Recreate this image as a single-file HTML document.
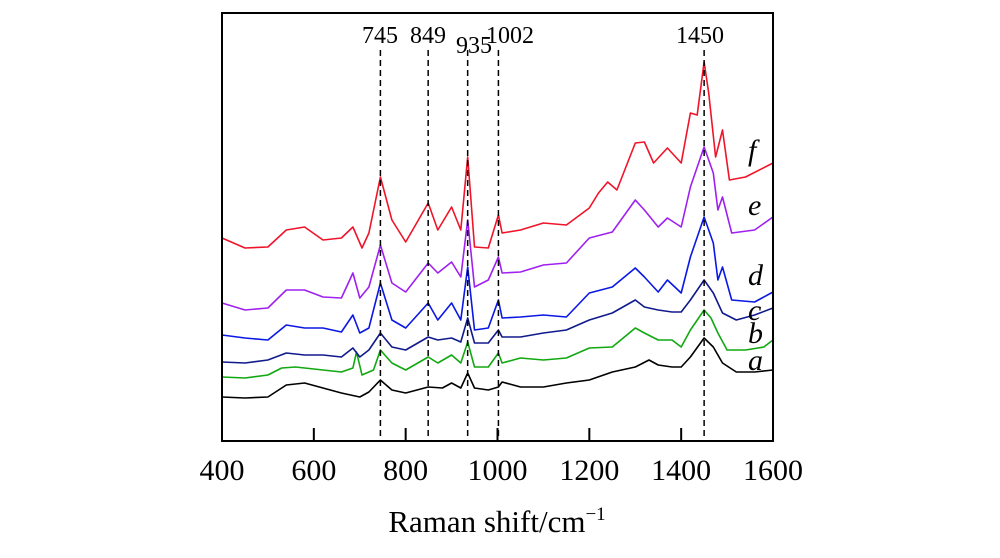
<!DOCTYPE html>
<html><head><meta charset="utf-8"><style>
body{margin:0;background:#fff}
svg text{font-family:"Liberation Serif",serif;fill:#000}
</style></head><body>
<svg width="1000" height="553" viewBox="0 0 1000 553">
<g id="plot"></g>
<rect x="222" y="13" width="551" height="428" fill="none" stroke="#000" stroke-width="2"/>
<g id="ticks"></g>
<text x="497" y="532" font-size="31" text-anchor="middle">Raman shift/cm<tspan font-size="19" dy="-12">−1</tspan></text>
</svg>
<script>
const xTicks=[400,600,800,1000,1200,1400,1600];
const peakPos=[745,849,935,1002,1450];
const peakLabels=["745","849","935","1002","1450"];
const seriesNames=["a","b","c","d","e","f"];
const seriesColors=["#000000","#11a811","#101a8c","#0a18e6","#a020f0","#f0142a"];
const xA=[400,450,500,540,580,620,660,700,720,745,770,800,849,880,900,920,935,950,980,1002,1010,1050,1100,1150,1200,1250,1300,1330,1350,1380,1400,1420,1450,1470,1490,1520,1560,1600];
const yA=[44,43,44,56,58,53,48,44,49,61,51,48,54,53,58,53,68,53,51,54,59,54,54,58,61,69,74,81,76,74,74,84,103,94,78,69,69,71];
const xB=[400,450,500,530,560,620,660,685,693,705,730,745,770,800,849,870,900,920,935,950,980,1002,1010,1050,1100,1150,1200,1250,1300,1320,1350,1380,1400,1420,1450,1465,1480,1500,1540,1580,1600];
const yB=[64,63,66,73,74,71,69,73,89,66,71,91,78,71,84,78,86,78,99,74,74,88,78,83,81,83,93,94,113,108,101,101,94,111,131,123,108,91,91,94,101];
const xC=[400,450,500,540,580,620,660,685,700,720,745,770,800,849,870,900,920,935,950,980,1002,1010,1050,1100,1150,1200,1250,1300,1320,1350,1380,1400,1420,1450,1470,1490,1520,1560,1600];
const yC=[79,78,81,88,86,86,84,93,84,91,108,94,91,104,101,103,99,123,98,98,111,104,104,108,111,121,128,141,134,131,129,129,141,161,148,128,121,126,133];
const xD=[400,450,500,540,580,620,660,685,700,720,745,770,800,849,870,900,920,935,950,980,1002,1010,1050,1100,1150,1200,1250,1300,1320,1350,1370,1400,1420,1450,1470,1480,1490,1510,1560,1600];
const yD=[106,103,101,116,113,113,109,126,108,113,158,121,113,138,121,138,121,174,111,113,141,123,124,126,124,148,154,173,164,149,161,148,184,224,198,161,174,141,139,149];
const yE=[138,131,133,151,151,144,143,168,143,154,196,158,149,178,168,179,164,221,154,161,184,168,169,176,178,203,209,241,231,214,223,214,254,294,268,231,244,208,211,224];
const xF=[400,450,500,540,580,620,660,685,705,720,745,770,800,849,870,900,920,935,950,980,1002,1010,1050,1100,1150,1200,1220,1240,1260,1300,1320,1340,1370,1400,1420,1435,1450,1460,1475,1490,1505,1540,1600];
const yF=[203,193,194,211,214,201,203,214,193,208,264,221,199,238,211,234,211,284,194,193,226,208,211,218,216,233,248,259,251,298,299,278,293,278,328,326,379,348,284,311,261,264,278];
const labelY=[360,333,310,275,205,150];
const NS="http://www.w3.org/2000/svg";
const X=v=>222+(v-400)*551/1200;
const Y=v=>441-v;
const plot=document.getElementById('plot'),ticks=document.getElementById('ticks');
const series=[[xA,yA],[xB,yB],[xC,yC],[xD,yD],[xD,yE],[xF,yF]];
series.forEach((s,i)=>{
 const p=document.createElementNS(NS,'polyline');
 p.setAttribute('points',s[0].map((x,j)=>X(x).toFixed(1)+','+Y(s[1][j]).toFixed(1)).join(' '));
 p.setAttribute('fill','none');p.setAttribute('stroke',seriesColors[i]);p.setAttribute('stroke-width','1.6');p.setAttribute('stroke-linejoin','round');
 
 
 plot.appendChild(p);
 const t=document.createElementNS(NS,'text');
 t.setAttribute('x',748);t.setAttribute('y',labelY[i]+10);t.setAttribute('font-size','30');t.setAttribute('font-style','italic');
 t.textContent=seriesNames[i];
 
 
 plot.appendChild(t);
});
const lblX=[380,428,474,510,700],lblY=[43,43,53,43,43];
peakPos.forEach((v,i)=>{
 const l=document.createElementNS(NS,'line');
 l.setAttribute('x1',X(v));l.setAttribute('x2',X(v));l.setAttribute('y1',50);l.setAttribute('y2',440);
 l.setAttribute('stroke','#000');l.setAttribute('stroke-width','1.5');l.setAttribute('stroke-dasharray','6,4');
 
 
 plot.appendChild(l);
 const t=document.createElementNS(NS,'text');
 t.setAttribute('x',lblX[i]);t.setAttribute('y',lblY[i]);t.setAttribute('font-size','24');t.setAttribute('text-anchor','middle');
 t.textContent=peakLabels[i];
 
 
 plot.appendChild(t);
});
xTicks.forEach(v=>{
 if(v>400&&v<1600){
  const l=document.createElementNS(NS,'line');
  l.setAttribute('x1',X(v));l.setAttribute('x2',X(v));l.setAttribute('y1',441);l.setAttribute('y2',428);
  l.setAttribute('stroke','#000');l.setAttribute('stroke-width','2');
  
  
  ticks.appendChild(l);
 }
 const t=document.createElementNS(NS,'text');
 t.setAttribute('x',X(v));t.setAttribute('y',480);t.setAttribute('font-size','30');t.setAttribute('text-anchor','middle');
 t.textContent=v;
 
 
 ticks.appendChild(t);
});
</script>
</body></html>
